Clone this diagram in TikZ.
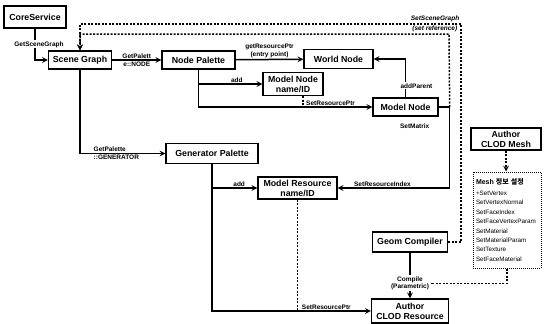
\documentclass[tikz,border=0pt]{standalone}
\usepackage{fontspec}
\setmainfont{Liberation Sans}
\newfontfamily\kofont{Noto Sans CJK KR}
\usetikzlibrary{arrows, shapes}
\tikzstyle{block} = [rectangle, draw=black, line width=1.4pt, align=center, inner sep=1pt, font=\fontsize{8.8}{9.8}\selectfont\bfseries]
\tikzstyle{mesh} = [rectangle, draw=black, line width=1pt, dash pattern=on 1pt off 1pt, minimum width=68, minimum height=96, text width=62, align=left, inner sep=2pt, font=\fontsize{6.3}{9.4}\selectfont]
\tikzstyle{lbl} = [inner sep=1pt, font=\fontsize{6.5}{7.5}\selectfont\bfseries]
\tikzstyle{arrow} = [line width=1.5pt, ->, >=stealth]
\tikzstyle{dline} = [line width=1.4pt, dash pattern=on 2pt off 1.5pt]

\begin{document}
\begin{tikzpicture}[x=1pt, y=1pt, yscale=-1]
\useasboundingbox (0,0) rectangle (544,324);

\node at (35, 17) (core) [block, minimum width=62, minimum height=22] {CoreService};
\node at (80, 60) (scene) [block, minimum width=63, minimum height=18] {Scene Graph};
\node at (198.5, 60) (npal) [block, minimum width=73, minimum height=18] {Node Palette};
\node at (338.5, 59) (world) [block, minimum width=69, minimum height=19] {World Node};
\node at (293, 84) (mnode) [block, minimum width=60, minimum height=23] {Model Node\\name/ID};
\node at (405.5, 107) (mnodeb) [block, minimum width=65, minimum height=18] {Model Node};
\node at (212, 153.5) (genpal) [block, minimum width=92, minimum height=20] {Generator Palette};
\node at (297.5, 188) (mres) [block, minimum width=79, minimum height=22] {Model Resource\\name/ID};
\node at (410, 242) (geom) [block, minimum width=75, minimum height=20] {Geom Compiler};
\node at (410, 311) (clodres) [block, minimum width=77, minimum height=24] {Author\\CLOD Resource};
\node at (506, 139) (clodmesh) [block, minimum width=70, minimum height=22] {Author\\CLOD Mesh};
\node at (507, 220) (meshbox) [mesh] {{\fontsize{7}{8}\selectfont\bfseries Mesh {\kofont 정보 설정}}\\[1.5pt]
  +SetVertex\\ SetVertexNormal\\ SetFaceIndex\\ SetFaceVertexParam\\ SetMaterial\\ SetMaterialParam\\ SetTexture\\ SetFaceMaterial};

\coordinate (refin) at (449, 34);
\coordinate (refout) at (461, 24);

% solid links
\draw [arrow] (core.south) |- (scene.west) node [lbl, pos=0.25, fill=white, xshift=4pt] {GetSceneGraph};
\draw [arrow] (scene) -- (npal) node [lbl, midway, above] {GetPalett} node [lbl, midway, below] {e::NODE};
\draw [arrow] (scene.south) |- (genpal.west) node [lbl, pos=0.57, anchor=south west] {GetPalette} node [lbl, pos=0.57, anchor=north west] {::GENERATOR};
\draw [arrow] (npal) -- (world) node [lbl, midway, above, align=center] {getResourcePtr\\(entry point)};
\draw [arrow] (npal.south) |- (mnodeb.west) node [lbl, pos=0.88, above] {SetResourcePtr};
\draw [arrow] (npal.south |- mnode.west) -- (mnode.west) node [lbl, pos=0.6, above] {add};
\draw [arrow] (mnodeb.north) |- (world.east) node [lbl, pos=0.15, fill=white, xshift=11pt] {addParent};
\draw [arrow] (mnodeb.east) -- ++(11,0) coordinate (mcorner) |- (mres.east) node [lbl, pos=0.12, xshift=-35pt] {SetMatrix} node [lbl, pos=0.8, above] {SetResourceIndex};
\draw [arrow] (genpal.south) |- (clodres.west) node [lbl, pos=0.86, above] {SetResourcePtr};
\draw [arrow] (genpal.south |- mres.west) -- (mres.west) node [lbl, pos=0.6, above] {add};
\draw [arrow] (geom) -- (clodres) node [lbl, pos=0.67, fill=white, align=center] (compile) {Compile\\(Parametric)};

% dashed links
\draw [dline] ([xshift=10pt]mnode.south) -- ([xshift=10pt]mnode.south |- mnodeb.west);
\draw [dline] (mres.south) -- (mres.south |- clodres.west);
\draw [dline, arrow] (mcorner) -- (refin) -| (scene.north);
\draw [dline, arrow] (geom.east) -| (refout) node [lbl, anchor=south east, font=\fontsize{6.5}{7.5}\selectfont\bfseries\itshape] {SetSceneGraph} node [lbl, anchor=north east, xshift=-2pt, font=\fontsize{6.5}{7.5}\selectfont\bfseries\itshape] {(set reference)} -| (scene.north);
\draw [dline, arrow] (clodmesh.south) -- (clodmesh.south |- meshbox.north);
\draw [dline] (meshbox.south) |- (compile.east);

\end{tikzpicture}
\end{document}
